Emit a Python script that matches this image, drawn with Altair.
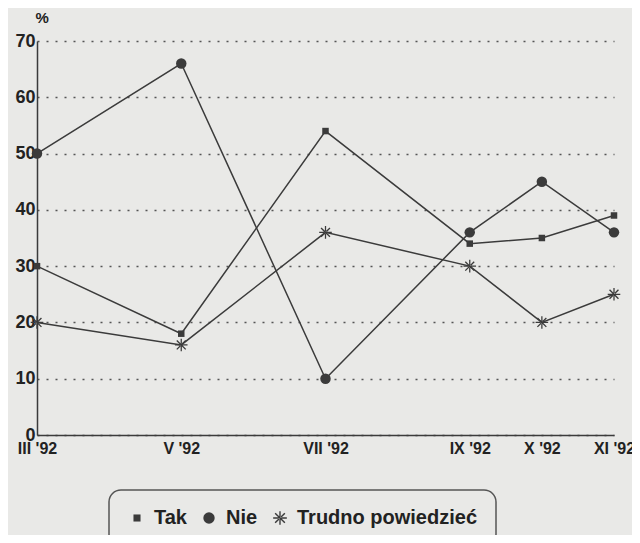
import altair as alt
import pandas as pd

months = [3, 5, 7, 9, 10, 11]
month_labels = ["III '92", "V '92", "VII '92", "IX '92", "X '92", "XI '92"]
series_names = ["Tak", "Nie", "Trudno powiedzieć"]
tak = [30, 18, 54, 34, 35, 39]
nie = [50, 66, 10, 36, 45, 36]
trudno = [20, 16, 36, 30, 20, 25]

rows = []
for name, vals in zip(series_names, [tak, nie, trudno]):
    for m, v in zip(months, vals):
        rows.append({"month": m, "value": v, "series": name})
df = pd.DataFrame(rows)

label_map = "{" + ",".join(f"'{m}': \"{l}\"" for m, l in zip(months, month_labels)) + "}"

square = "M-0.62,-0.62L0.62,-0.62L0.62,0.62L-0.62,0.62Z"
asterisk = ("M-1.2,-0.12L1.2,-0.12L1.2,0.12L-1.2,0.12Z"
            "M-0.12,-1.2L0.12,-1.2L0.12,1.2L-0.12,1.2Z"
            "M-0.76,-0.94L0.94,0.76L0.76,0.94L-0.94,-0.76Z"
            "M-0.76,0.94L0.94,-0.76L0.76,-0.94L-0.94,0.76Z")

ink = "#3b3b3b"
font = "Liberation Sans"

x = alt.X("month:Q",
          scale=alt.Scale(domain=[3, 11], nice=False, zero=False),
          axis=alt.Axis(values=months, labelExpr=f"{label_map}[datum.value]",
                        title=None, grid=False, ticks=False, labelPadding=5,
                        labelFont=font, labelFontSize=16, labelFontWeight="bold",
                        labelColor="#222", domainColor=ink, domainWidth=1.5,
                        labelFlush=False, labelOverlap=False))
y = alt.Y("value:Q",
          scale=alt.Scale(domain=[0, 70], nice=False),
          axis=alt.Axis(values=[0, 10, 20, 30, 40, 50, 60, 70], title="%",
                        titleAngle=0, titleX=-2, titleY=-16, titleAlign="left",
                        titleFont=font, titleFontSize=15, titleFontWeight="bold",
                        titleColor="#222",
                        grid=True, gridDash=[2, 7], gridColor="#555", gridWidth=1.5,
                        ticks=False, labelPadding=2,
                        labelFont=font, labelFontSize=18, labelFontWeight="bold",
                        labelColor="#222", domainColor=ink, domainWidth=1.5))

lines = alt.Chart(df).mark_line(color=ink, strokeWidth=1.5).encode(
    x=x, y=y, detail="series:N")

points = alt.Chart(df).mark_point(filled=True, color=ink, opacity=1, size=110).encode(
    x="month:Q", y="value:Q",
    shape=alt.Shape("series:N",
                    scale=alt.Scale(domain=series_names,
                                    range=[square, "circle", asterisk]),
                    legend=alt.Legend(title=None, orient="none", direction="horizontal",
                                      legendX=72, legendY=449,
                                      strokeColor="#555",
                                      cornerRadius=12, padding=18,
                                      labelFont=font, labelFontSize=20,
                                      labelFontWeight="bold", labelColor="#222",
                                      symbolFillColor=ink, symbolStrokeColor=ink,
                                      symbolSize=130, columnPadding=12,
                                      labelOffset=7, labelLimit=300)))

chart = alt.layer(lines, points).properties(
    width=577, height=394,
    autosize=alt.AutoSizeParams(type="none"),
    padding={"left": 29, "top": 33, "right": 18, "bottom": 100},
    background="#e9e9e7",
).configure_view(stroke=None).configure_legend(strokeWidth=1.5)

chart.save("out.html", embed_options={"renderer": "svg", "actions": False})
